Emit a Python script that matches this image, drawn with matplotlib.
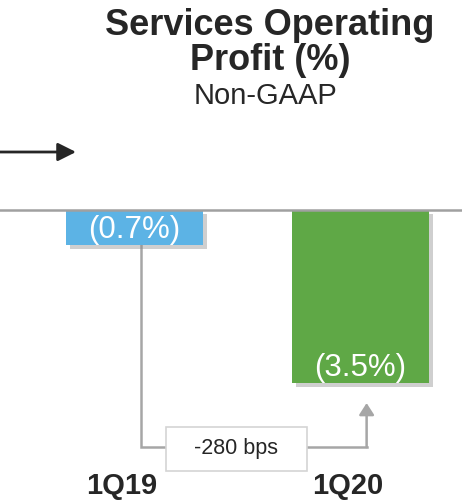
import matplotlib.pyplot as plt
import matplotlib.patheffects as pe
from matplotlib.patches import FancyArrowPatch, Rectangle

plt.rcParams['font.family'] = ['Liberation Sans', 'DejaVu Sans']

quarters = ["1Q19", "1Q20"]
profit = [-0.7, -3.5]
labels = ["(0.7%)", "(3.5%)"]
change_text = "-280 bps"
colors = ["#5cb3e5", "#5fa846"]
dark = "#262626"
gray = "#a6a6a6"

W, H = 462, 502
fig = plt.figure(figsize=(W / 100, H / 100), dpi=100)
ax = fig.add_axes([0, 0, 1, 1])
scale = 49.5  # px per percent
ax.set_xlim(-0.595, 1.449)
ax.set_ylim(-(H - 211) / scale, 211 / scale)
ax.axis("off")

x = list(range(len(quarters)))
bars = ax.bar(x, profit, width=0.606, color=colors, zorder=3)
for b in bars:
    b.set_path_effects([pe.SimplePatchShadow(offset=(3, -3), shadow_rgbFace="#888888", alpha=0.4),
                        pe.Normal()])

# baseline
ax.axhline(0, color="#a0a0a0", lw=1.8, zorder=4)

# value labels inside bars
for i, (v, t) in enumerate(zip(profit, labels)):
    ax.text(i, v + 0.32, t, ha="center", va="center", color="white", fontsize=22.5, zorder=5)

# category labels
for i, q in enumerate(quarters):
    ax.text(i - 0.058, -5.55, q, ha="center", va="center", fontsize=21,
            fontweight="bold", color=dark)

# connector
off = 0.027
y_line = -4.79
ax.plot([x[0] + off, x[0] + off, x[1] + off], [profit[0], y_line, y_line],
        color=gray, lw=1.8, zorder=2, solid_joinstyle="miter")
ax.add_patch(FancyArrowPatch((x[1] + off, y_line), (x[1] + off, profit[1] - 0.4),
                             arrowstyle="-|>,head_length=7,head_width=4.5",
                             color=gray, lw=1.8, shrinkA=0, shrinkB=0, zorder=2))
ax.add_patch(Rectangle((0.139, -5.27), 0.624, 0.89, fc="white", ec="#d4d4d4",
                       lw=1.2, zorder=4))
ax.text(0.451, y_line, change_text, ha="center", va="center", fontsize=15.5, color=dark,
        zorder=5)

# title
fig.text(270 / W, 1 - 43 / H, "Services Operating\nProfit (%)", ha="center", va="center",
         fontsize=26, fontweight="bold", color=dark, linespacing=0.98)
fig.text(265 / W, 1 - 96 / H, "Non-GAAP", ha="center", va="center",
         fontsize=21, color=dark)

# pointer arrow top-left
fig.add_artist(FancyArrowPatch((0, 1 - 153 / H), (76 / W, 1 - 153 / H),
                               transform=fig.transFigure,
                               arrowstyle="-|>,head_length=11,head_width=5.5",
                               color=dark, lw=2, shrinkA=0, shrinkB=0))

fig.savefig("out.png", dpi=100)
